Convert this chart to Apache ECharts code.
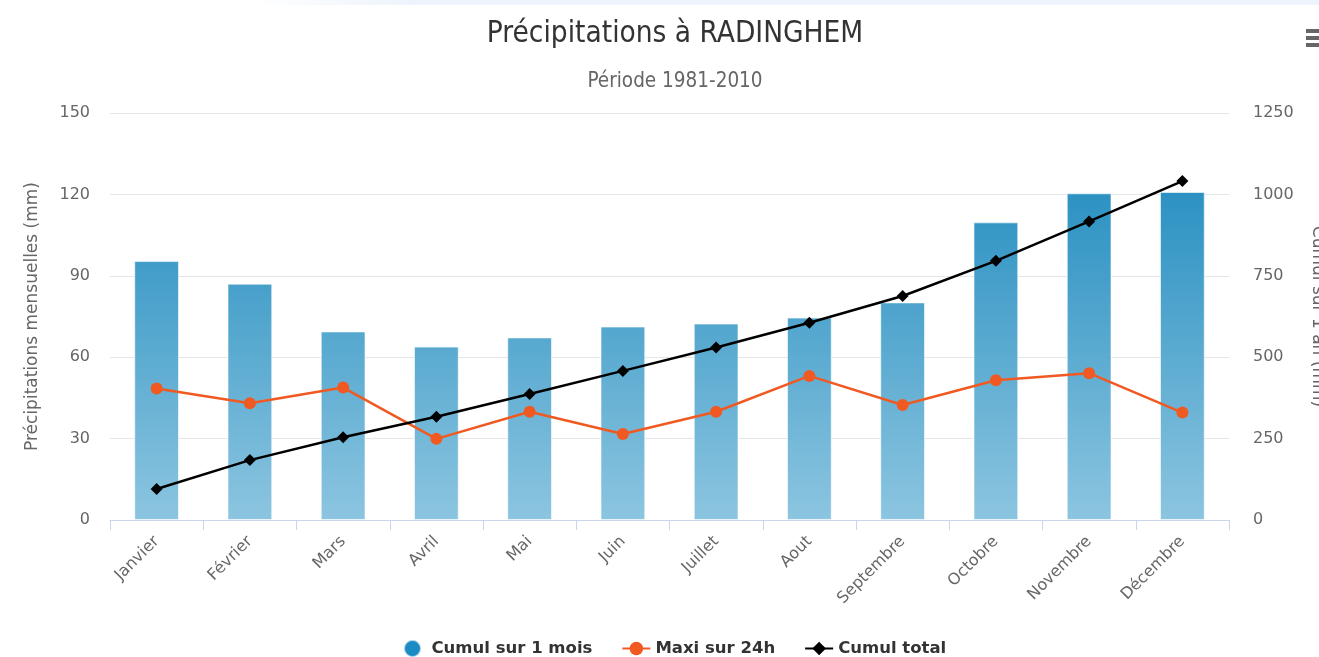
<!DOCTYPE html>
<html><head><meta charset="utf-8">
<script src="https://cdn.jsdelivr.net/npm/echarts@6/dist/echarts.min.js"></script>
<style>html,body{margin:0;padding:0;background:#fff}#c{width:1319px;height:657px}</style>
</head><body><div id="c"></div>
<script>
const categories = ['Janvier','Février','Mars','Avril','Mai','Juin','Juillet','Aout','Septembre','Octobre','Novembre','Décembre'];
const cumulMois = [95.5, 87.1, 69.5, 63.9, 67.3, 71.3, 72.4, 74.6, 80.2, 109.7, 120.4, 120.9];
const maxi24h = [48.5, 43.0, 48.8, 29.9, 39.9, 31.7, 39.9, 53.1, 42.4, 51.5, 54.1, 39.6];
const cumulTotal = [95, 184, 254, 317, 387, 458, 530, 606, 688, 796, 917, 1041];
const leftTicks = {min: 0, max: 150, interval: 30};
const rightTicks = {min: 0, max: 1250, interval: 250};

const chart = echarts.init(document.getElementById('c'), null, {renderer: 'canvas'});
const barGrad = new echarts.graphic.LinearGradient(0, 113, 0, 520, [
  {offset: 0, color: '#1585bb'},
  {offset: 1, color: '#8cc5e0'}
], true);
chart.setOption({
  animation: false,
  textStyle: {fontFamily: 'DejaVu Sans'},
  title: [
    {text: 'Précipitations à RADINGHEM', left: 670, textAlign: 'center', top: 14,
     textStyle: {fontFamily: 'DejaVu Sans Condensed', fontWeight: 'normal', fontSize: 29.5, color: '#333'}},
    {text: 'Période 1981-2010', left: 670, textAlign: 'center', top: 66,
     textStyle: {fontFamily: 'DejaVu Sans Condensed', fontWeight: 'normal', fontSize: 20.5, color: '#666'}}
  ],
  graphic: [
    {type: 'rect', shape: {x: 250, y: 0, width: 1069, height: 5},
     style: {fill: new echarts.graphic.LinearGradient(0, 0, 1, 0, [
       {offset: 0, color: 'rgba(238,244,251,0)'}, {offset: 0.15, color: '#eef4fb'}, {offset: 1, color: '#eef4fb'}])}},
    {type: 'rect', shape: {x: 1306, y: 29, width: 13, height: 4}, style: {fill: '#666'}},
    {type: 'rect', shape: {x: 1306, y: 36, width: 13, height: 4}, style: {fill: '#666'}},
    {type: 'rect', shape: {x: 1306, y: 43, width: 13, height: 4}, style: {fill: '#666'}}
  ],
  legend: {
    top: 634, left: 398, itemGap: 29, itemWidth: 28, itemHeight: 17,
    textStyle: {fontWeight: 'bold', fontSize: 16.5, color: '#333', fontFamily: 'DejaVu Sans'},
    data: [
      {name: 'Cumul sur 1 mois', icon: 'circle', itemStyle: {color: '#1c8ac5'}},
      {name: 'Maxi sur 24h'},
      {name: 'Cumul total'}
    ]
  },
  grid: {left: 110, right: 90, top: 113, bottom: 137, outerBoundsMode: 'none', containLabel: false},
  xAxis: {
    type: 'category', data: categories, boundaryGap: true,
    axisLine: {lineStyle: {color: '#ccd6eb'}},
    axisTick: {show: true, length: 10, alignWithLabel: false, lineStyle: {color: '#ccd6eb'}},
    axisLabel: {rotate: 45, color: '#666', fontSize: 16, fontFamily: 'DejaVu Sans', margin: 19, interval: 0}
  },
  yAxis: [
    {type: 'value', min: leftTicks.min, max: leftTicks.max, interval: leftTicks.interval,
     name: 'Précipitations mensuelles (mm)', nameLocation: 'middle', nameGap: 69,
     nameTextStyle: {color: '#666', fontSize: 17, fontFamily: 'DejaVu Sans'},
     axisLine: {show: false}, axisTick: {show: false},
     axisLabel: {color: '#666', fontSize: 16, margin: 20},
     splitLine: {lineStyle: {color: '#e6e6e6'}}},
    {type: 'value', min: rightTicks.min, max: rightTicks.max, interval: rightTicks.interval,
     name: 'Cumul sur 1 an (mm)', nameLocation: 'middle', nameGap: 80, nameRotate: -90,
     nameTextStyle: {color: '#666', fontSize: 17, fontFamily: 'DejaVu Sans'},
     axisLine: {show: false}, axisTick: {show: false},
     axisLabel: {color: '#666', fontSize: 16, margin: 24, formatter: function (v) { return String(v); }},
     splitLine: {show: false}}
  ],
  series: [
    {name: 'Cumul sur 1 mois', type: 'bar', yAxisIndex: 0, data: cumulMois, barWidth: '48%',
     itemStyle: {color: barGrad, borderColor: 'rgba(255,255,255,0.6)', borderWidth: 1}},
    {name: 'Maxi sur 24h', type: 'line', yAxisIndex: 0, data: maxi24h,
     symbol: 'circle', symbolSize: 12, lineStyle: {color: '#f05a22', width: 2.5},
     itemStyle: {color: '#f05a22'}},
    {name: 'Cumul total', type: 'line', yAxisIndex: 1, data: cumulTotal,
     symbol: 'diamond', symbolSize: 12, lineStyle: {color: '#000', width: 2.5},
     itemStyle: {color: '#000'}}
  ]
});
</script></body></html>
